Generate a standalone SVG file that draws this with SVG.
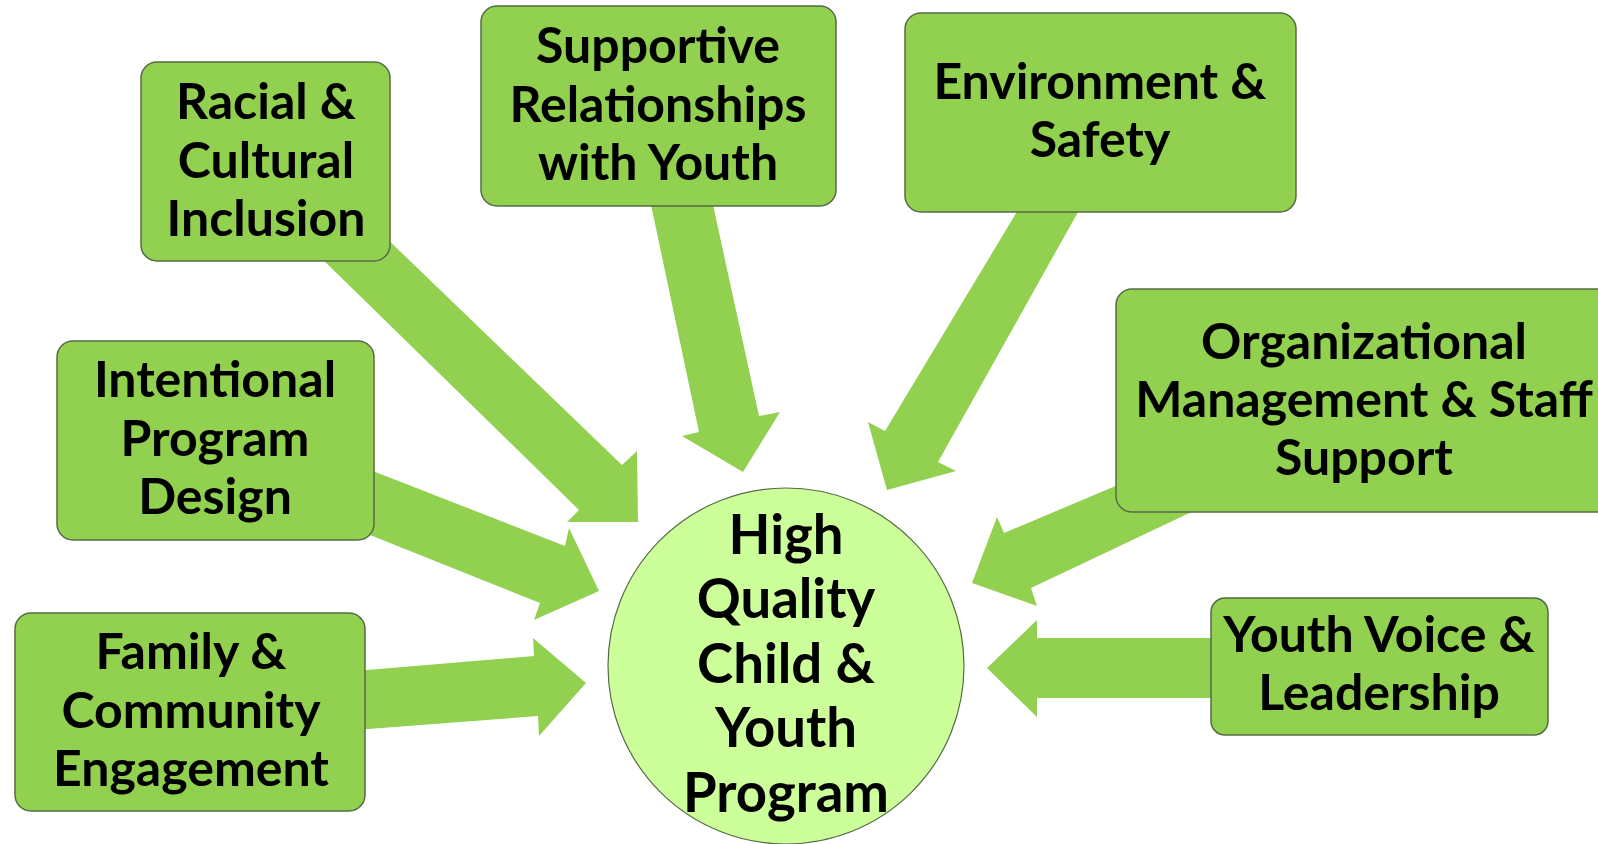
<svg xmlns="http://www.w3.org/2000/svg" width="1598" height="844" viewBox="0 0 1598 844">
<style>
.box{fill:#92D050;stroke:#556b45;stroke-width:1.5}
.hub{fill:#CCFF99;stroke:#556b45;stroke-width:1.2}
.arr{fill:#92D050}
text{font-family:Lato,"Liberation Sans",sans-serif;font-weight:bold;fill:#000;text-anchor:middle}
.t{font-size:50px}
.c{font-size:54.5px}
</style>
<rect width="1598" height="844" fill="#fff"/>
<g id="connectors">
<polygon class="arr" points="380,232 622,465 637,451 638,522 567,522 579,510 315,252"/>
<polygon class="arr" points="360,466 565,546 569,528 599,591 534,620 540,603 360,531"/>
<polygon class="arr" points="355,671 534,656 533,638 586,683 539,736 538,716 355,730"/>
<polygon class="arr" points="650,200 699,432 682,436 743,472 780,412 759,416 712,200"/>
<polygon class="arr" points="1021,205 885,431 868,422 887,490 956,471 938,462 1082,205"/>
<polygon class="arr" points="1125,482 1004,533 997,517 972,583 1037,606 1031,588 1200,508"/>
<polygon class="arr" points="1220,638 1037,638 1037,620 987,668 1037,717 1037,698 1220,698"/>
</g>
<g id="racial">
<rect class="box" x="141" y="62" width="249" height="199" rx="16"/>
<text class="t" x="266" y="119">Racial &amp;</text>
<text class="t" x="266" y="178">Cultural</text>
<text class="t" x="266" y="236">Inclusion</text>
</g>
<g id="supportive">
<rect class="box" x="481" y="6" width="355" height="200" rx="16"/>
<text class="t" x="658" y="63">Supportive</text>
<text class="t" x="658" y="122">Relationships</text>
<text class="t" x="658" y="180">with Youth</text>
</g>
<g id="environment">
<rect class="box" x="905" y="13" width="391" height="199" rx="16"/>
<text class="t" x="1100" y="99">Environment &amp;</text>
<text class="t" x="1100" y="157">Safety</text>
</g>
<g id="intentional">
<rect class="box" x="57" y="341" width="317" height="199" rx="16"/>
<text class="t" x="215" y="397">Intentional</text>
<text class="t" x="215" y="456">Program</text>
<text class="t" x="215" y="514">Design</text>
</g>
<g id="organizational">
<rect class="box" x="1116" y="289" width="500" height="223" rx="16"/>
<text class="t" x="1364" y="359">Organizational</text>
<text class="t" x="1364" y="417">Management &amp; Staff</text>
<text class="t" x="1364" y="475">Support</text>
</g>
<g id="family">
<rect class="box" x="15" y="613" width="350" height="198" rx="16"/>
<text class="t" x="191" y="669">Family &amp;</text>
<text class="t" x="191" y="728">Community</text>
<text class="t" x="191" y="786">Engagement</text>
</g>
<g id="youthvoice">
<rect class="box" x="1211" y="598" width="337" height="137" rx="14"/>
<text class="t" x="1379" y="652">Youth Voice &amp;</text>
<text class="t" x="1379" y="710">Leadership</text>
</g>
<g id="hub">
<circle class="hub" cx="786" cy="666" r="178"/>
<text class="c" x="786" y="554">High</text>
<text class="c" x="786" y="618">Quality</text>
<text class="c" x="786" y="683">Child &amp;</text>
<text class="c" x="786" y="747">Youth</text>
<text class="c" x="786" y="812">Program</text>
</g>
</svg>
